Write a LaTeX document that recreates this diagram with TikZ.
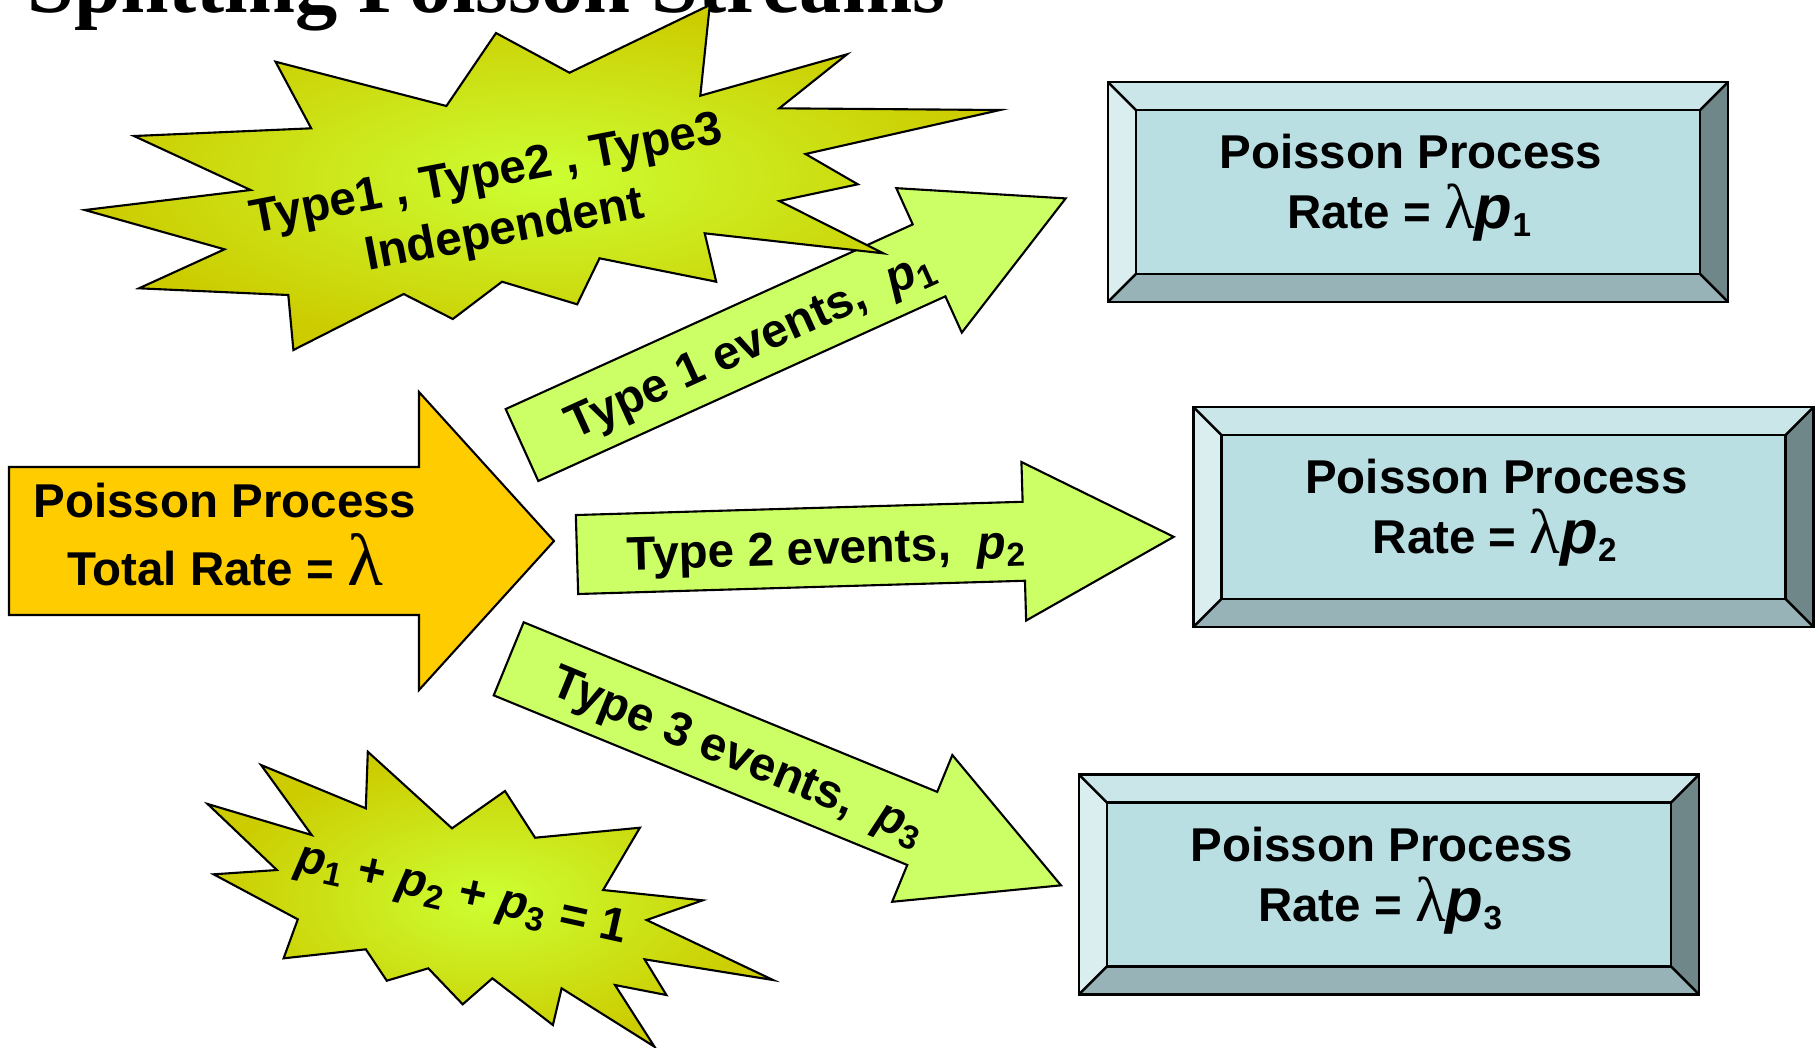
\documentclass[tikz,border=0pt]{standalone}
\usepackage{fontspec}
\setmainfont{Liberation Sans}
\newfontfamily\titlefont{Liberation Serif}
\newfontfamily\greekfont{Liberation Serif}
\usepackage{tikz}
\usetikzlibrary{positioning}
\usetikzlibrary{calc}

\definecolor{srcgold}{HTML}{FFCC00}
\definecolor{armgreen}{HTML}{CCFF66}
\definecolor{burstedge}{HTML}{CCCC00}
\definecolor{burstcore}{HTML}{CCFF33}
\definecolor{faceblue}{HTML}{BADFE3}
\definecolor{bevtop}{HTML}{CBE6E9}
\definecolor{bevleft}{HTML}{DAEEF0}
\definecolor{bevright}{HTML}{708789}
\definecolor{bevbottom}{HTML}{98B3B7}

\newcommand{\lamsym}[1]{{\greekfont\mdseries\fontsize{#1}{#1}\selectfont λ}}
\newcommand{\typeprob}[1]{\textit{p}\textsubscript{#1}}
\newcommand{\bigprob}[1]{{\fontsize{17.5}{17.5}\selectfont\itshape p}\textsubscript{#1}}

\tikzset{
	lbl/.style={font=\bfseries\fontsize{13.5}{17}\selectfont, inner sep=0pt},
	outline/.style={draw=black, line width=0.6pt, line join=miter},
	boxline/.style={draw=black, line width=0.7pt},
	ratebox/.style={rectangle, minimum width=6.2cm, minimum height=2.2cm, inner sep=0pt, outer sep=0pt},
	burst/.style={draw=black, line width=0.6pt, shading=radial, inner color=burstcore, outer color=burstedge},
}

\newcommand{\bevelfaces}[1]{%
	\fill[bevtop] (#1.north west) rectangle (#1.south east);
	\fill[bevleft] (#1.north west) -- ([shift={(28,28)}]#1.north west) -- ([shift={(28,-28)}]#1.south west) -- (#1.south west) -- cycle;
	\fill[bevright] (#1.north east) -- ([shift={(-28,28)}]#1.north east) -- ([shift={(-28,-28)}]#1.south east) -- (#1.south east) -- cycle;
	\fill[bevbottom] (#1.south west) -- ([shift={(28,-28)}]#1.south west) -- ([shift={(-28,-28)}]#1.south east) -- (#1.south east) -- cycle;
	\draw[boxline, fill=faceblue] ([shift={(28,28)}]#1.north west) rectangle ([shift={(-28,-28)}]#1.south east);
	\draw[boxline] (#1.north west) rectangle (#1.south east);
	\draw[boxline] (#1.north west) -- ([shift={(28,28)}]#1.north west)
		(#1.north east) -- ([shift={(-28,28)}]#1.north east)
		(#1.south west) -- ([shift={(28,-28)}]#1.south west)
		(#1.south east) -- ([shift={(-28,-28)}]#1.south east);
}

\begin{document}
\begin{tikzpicture}[x=0.01cm, y=-0.01cm]
	\clip (0,0) rectangle (1818,1047);
	\node[anchor=base west, inner sep=0pt, font=\titlefont\bfseries\fontsize{24}{24}\selectfont] (title) at (27,12) {Splitting Poisson Streams};
	
	% total stream
	\draw[outline, fill=srcgold] (9,467) -- (419,467) -- (419,392) -- (554,541) -- (419,690) -- (419,615) -- (9,615) -- cycle;
	\node[lbl, anchor=base] (src1) at (225,517) {Poisson Process};
	\node[lbl, anchor=base] (src2) at (225,585) {Total Rate = \lamsym{21}};
	
	% the three split streams
	\begin{scope}[shift={(522,445)}, rotate=24.4, transform shape]
		\draw[outline, fill=armgreen] (0,-39.5) -- (447,-39.5) -- (447,-79.3) -- (597,0) -- (447,79.3) -- (447,39.5) -- (0,39.5) -- cycle;
		\node[lbl, anchor=base] (type1) at (250,17) {Type 1 events,\ \ \typeprob{1}};
	\end{scope}
	\begin{scope}[shift={(577,554.5)}, rotate=1.7, transform shape]
		\draw[outline, fill=armgreen] (0,-39.5) -- (447,-39.5) -- (447,-79.3) -- (597,0) -- (447,79.3) -- (447,39.5) -- (0,39.5) -- cycle;
		\node[lbl, anchor=base] (type2) at (250,17) {Type 2 events,\ \ \typeprob{2}};
	\end{scope}
	\begin{scope}[shift={(508.7,658.8)}, rotate=-22.3, transform shape]
		\draw[outline, fill=armgreen] (0,-39.5) -- (447,-39.5) -- (447,-79.3) -- (597,0) -- (447,79.3) -- (447,39.5) -- (0,39.5) -- cycle;
		\node[lbl, anchor=base] (type3) at (250,17) {Type 3 events,\ \ \typeprob{3}};
	\end{scope}
	
	% bursts
	\shadedraw[burst] (496,33) -- (569.5,72.7) -- (709.8,5) -- (700.3,95.7) -- (847,54.3) -- (779.3,108.3) -- (1000,110) -- (805.5,154) -- (857.8,184.3) -- (779.3,201) -- (883.3,253.3) -- (704.7,233.3) -- (716.2,281.7) -- (599.5,258.3) -- (577.2,304.3) -- (502,281.7) -- (452.8,319) -- (403.7,294) -- (293.4,350) -- (288.3,295) -- (139,288.3) -- (224.5,249.3) -- (84.8,210) -- (250.6,190) -- (134,136) -- (311.2,128.3) -- (275.5,61.7) -- (446.4,106) -- cycle;
	\node[lbl, anchor=base, rotate=10.8] (indep1) at (489,188) {Type1 , Type2 , Type3};
	\node[lbl, anchor=base, rotate=10.8] (indep2) at (507,244) {Independent};
	
	\shadedraw[burst] (367.8,751.7) -- (452,828.3) -- (505,791) -- (535.1,837.7) -- (639.9,827.7) -- (603.1,890) -- (702.7,900.3) -- (646.6,920) -- (773.1,980) -- (644.6,959.3) -- (666.4,995) -- (615,985) -- (654.5,1046.7) -- (561.6,988.3) -- (552.9,1025) -- (492.4,978.3) -- (462.7,1004.3) -- (428.3,968.3) -- (386.8,980.7) -- (365.8,949.3) -- (283.6,958.3) -- (297.8,919.3) -- (213.6,874.3) -- (276.9,870) -- (207.7,804) -- (311.7,835) -- (261.1,765) -- (365.8,808.3) -- cycle;
	\node[lbl, anchor=base, rotate=-12.5] (probsum) at (459,906.5) {\typeprob{1} + \typeprob{2} + \typeprob{3} = 1};
	
	% resulting processes
	\node[ratebox] (box1) at (1418,192) {};
	\bevelfaces{box1}
	\node[lbl, anchor=base] (rate1a) at ([shift={(-7,87)}]box1.north) {Poisson Process};
	\node[lbl, anchor=base] (rate1b) at ([shift={(-8,147)}]box1.north) {Rate = \lamsym{18}\bigprob{1}};
	
	\node[ratebox] (box2) at (1503.5,517) {};
	\bevelfaces{box2}
	\node[lbl, anchor=base] (rate2a) at ([shift={(-7,87)}]box2.north) {Poisson Process};
	\node[lbl, anchor=base] (rate2b) at ([shift={(-8,147)}]box2.north) {Rate = \lamsym{18}\bigprob{2}};
	
	\node[ratebox] (box3) at (1389,884.5) {};
	\bevelfaces{box3}
	\node[lbl, anchor=base] (rate3a) at ([shift={(-7,87)}]box3.north) {Poisson Process};
	\node[lbl, anchor=base] (rate3b) at ([shift={(-8,147)}]box3.north) {Rate = \lamsym{18}\bigprob{3}};
	
\end{tikzpicture}
\end{document}
